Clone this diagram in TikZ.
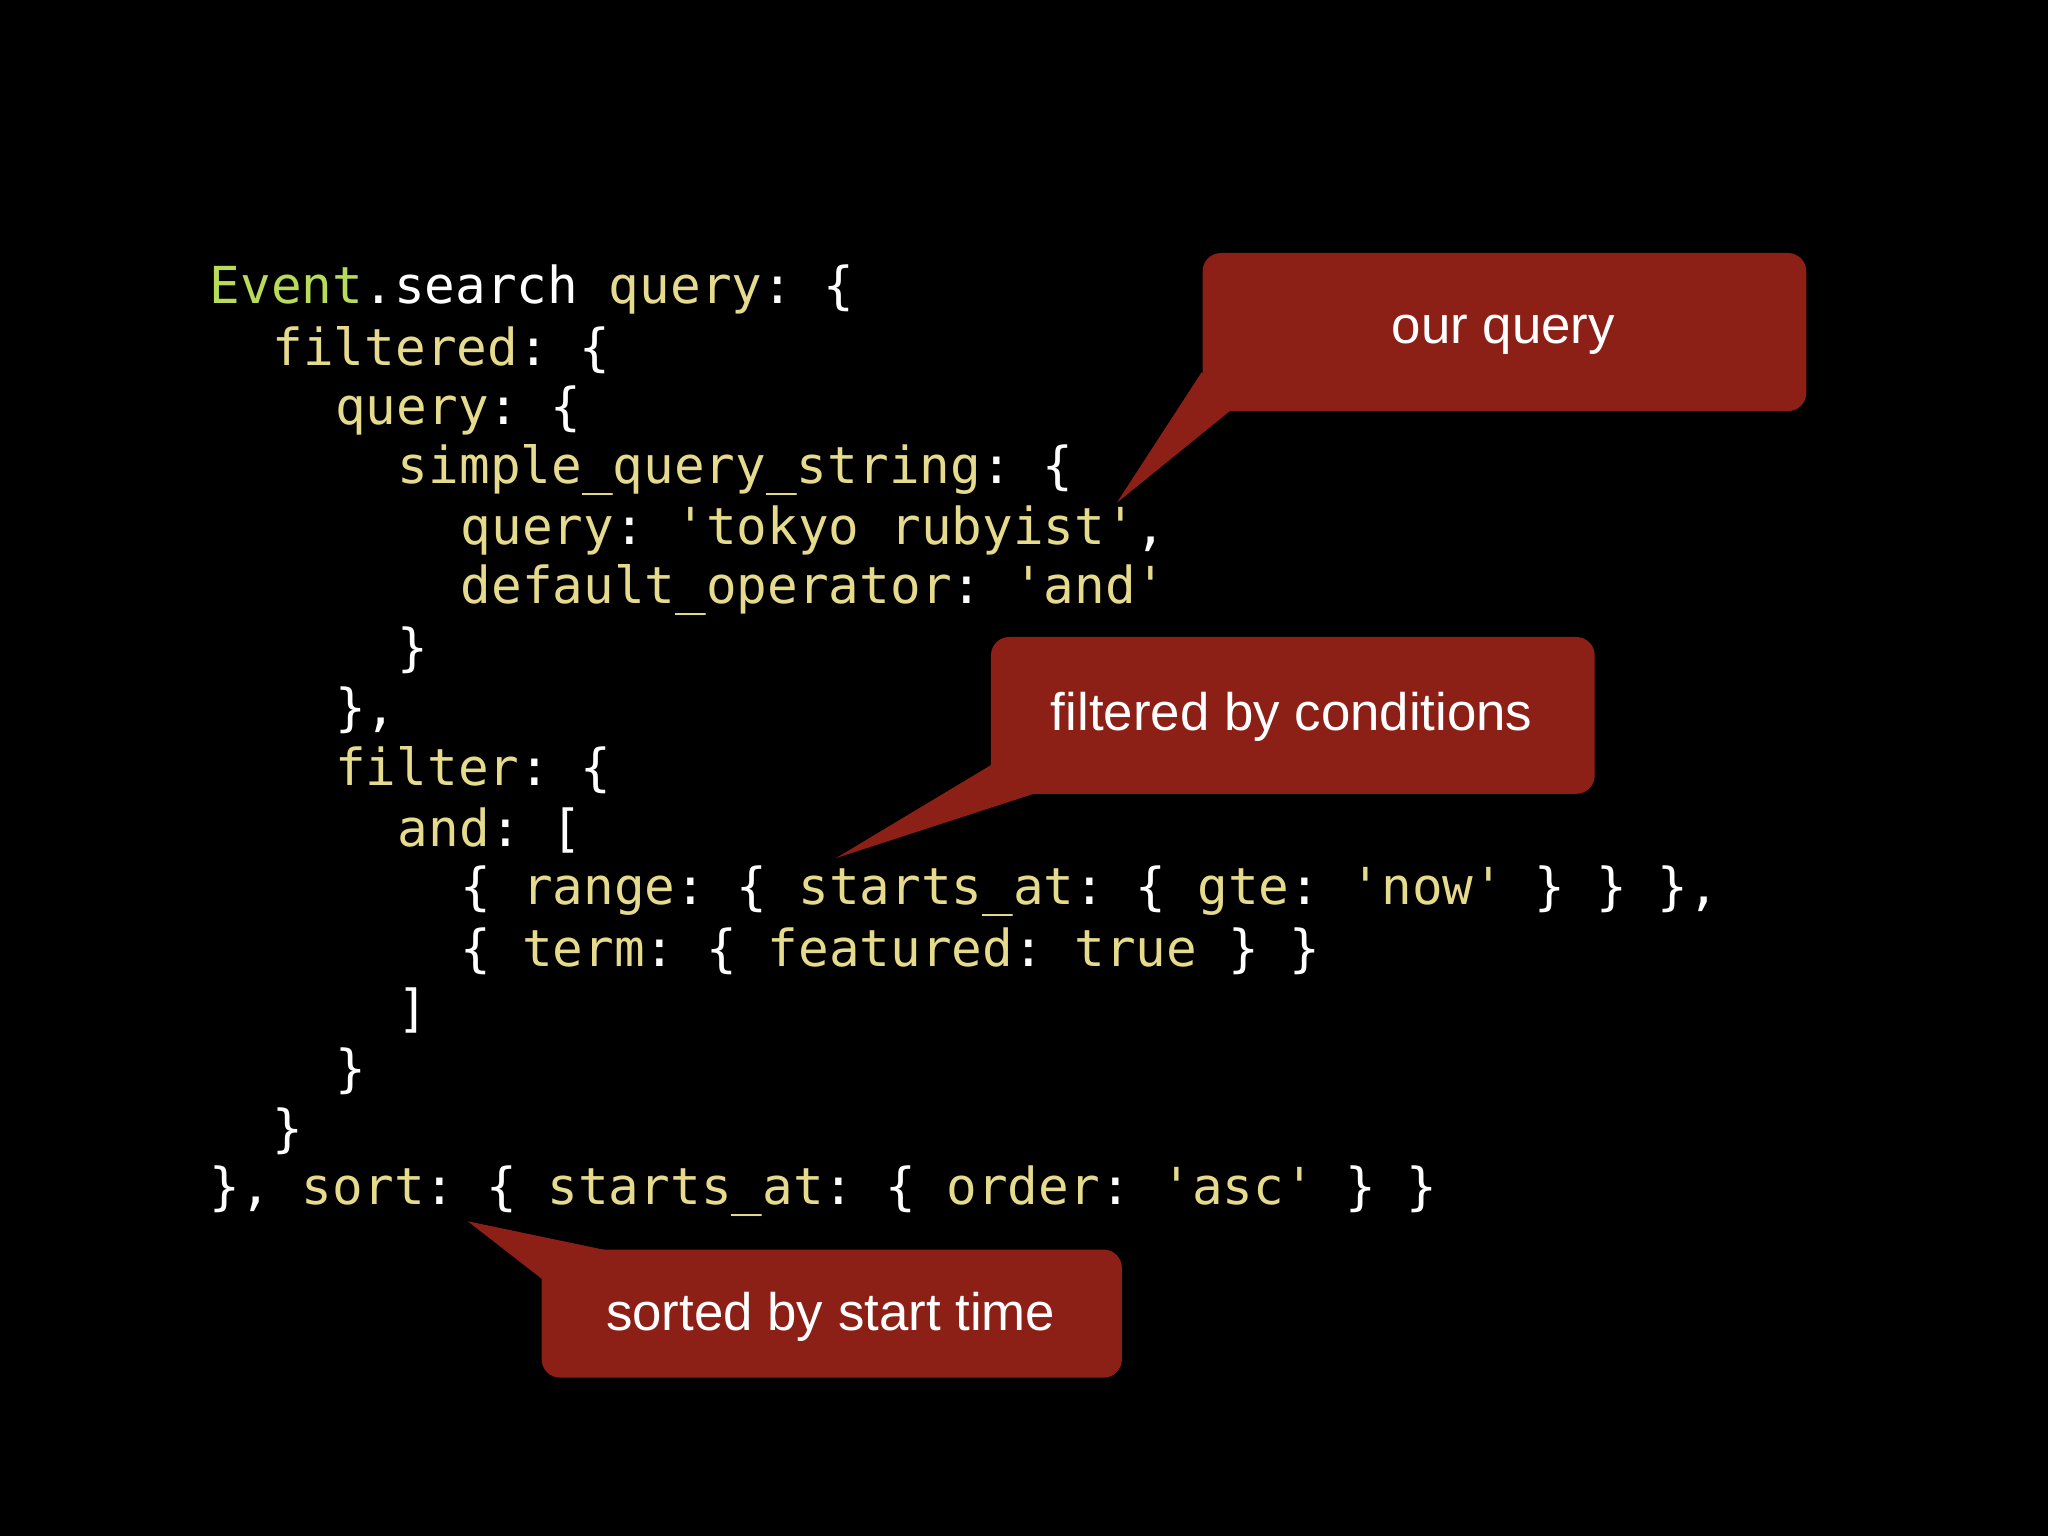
\documentclass[tikz,border=0pt]{standalone}
\usepackage{fontspec}
\setmainfont{Liberation Sans}
\setmonofont{DejaVu Sans Mono}
\definecolor{kw}{HTML}{E6DB8C}
\definecolor{cls}{HTML}{B8DC5A}
\definecolor{callred}{HTML}{8C1F16}
\newcommand\K[1]{\textcolor{kw}{#1}}
\begin{document}
\begin{tikzpicture}[x=0.01cm,y=-0.01cm,
  code/.style={anchor=west,inner sep=0pt,text=white,font=\ttfamily\fontsize{11.1}{13}\selectfont},
  callbox/.style={fill=callred,rounded corners=4pt,inner sep=0pt,anchor=north west},
  calltext/.style={text=white,font=\fontsize{11.5}{14}\selectfont}]
\fill[black] (0,0) rectangle (1568,1176);
\useasboundingbox (0,0) rectangle (1568,1176);
\newcommand\cl[3]{\node[code] (l#1) at (160+24*#2,176+46*#1) {#3};}
\cl{1}{0}{\textcolor{cls}{Event}.search \K{query}: \{}
\cl{2}{2}{\K{filtered}: \{}
\cl{3}{4}{\K{query}: \{}
\cl{4}{6}{\K{simple\_query\_string}: \{}
\cl{5}{8}{\K{query}: \K{'tokyo rubyist'},}
\cl{6}{8}{\K{default\_operator}: \K{'and'}}
\cl{7}{6}{\}}
\cl{8}{4}{\},}
\cl{9}{4}{\K{filter}: \{}
\cl{10}{6}{\K{and}: [}
\cl{11}{8}{\{ \K{range}: \{ \K{starts\_at}: \{ \K{gte}: \K{'now'} \} \} \},}
\cl{12}{8}{\{ \K{term}: \{ \K{featured}: \K{true} \} \}}
\cl{13}{6}{]}
\cl{14}{4}{\}}
\cl{15}{2}{\}}
\cl{16}{0}{\}, \K{sort}: \{ \K{starts\_at}: \{ \K{order}: \K{'asc'} \} \}}
% callout 1
\coordinate (t1) at (855,385);
\fill[callred] (920,285) -- (t1) -- (945,312) -- cycle;
\node[callbox,minimum width=4.62cm,minimum height=1.21cm] (b1) at (920,193) {};
\node[calltext] (c1) at (1151,256) {our query};
% callout 2
\coordinate (t2) at (640,657);
\fill[callred] (760,585) -- (t2) -- (800,605) -- cycle;
\node[callbox,minimum width=4.62cm,minimum height=1.20cm] (b2) at (758,487) {};
\node[calltext] (c2) at (989,549) {filtered by conditions};
% callout 3
\coordinate (t3) at (358,935);
\fill[callred] (416,980) -- (t3) -- (468,958) -- cycle;
\node[callbox,minimum width=4.44cm,minimum height=0.98cm] (b3) at (414,956) {};
\node[calltext] (c3) at (636,1008) {sorted by start time};
\end{tikzpicture}
\end{document}
